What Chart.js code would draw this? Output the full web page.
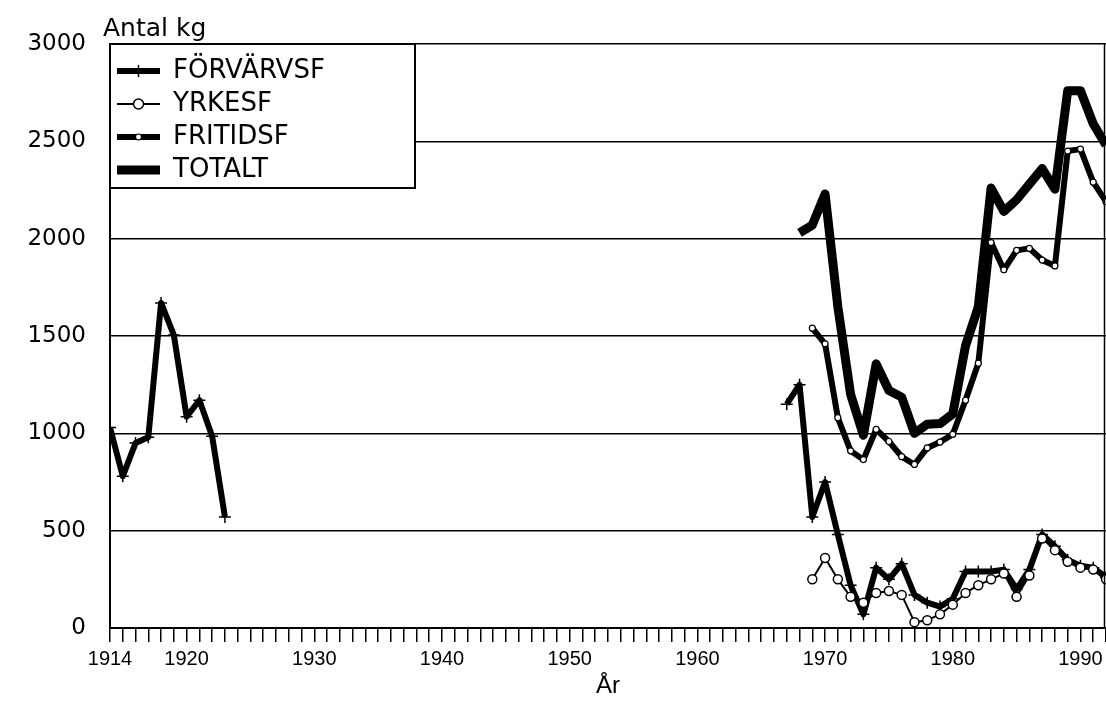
<!DOCTYPE html>
<html>
<head>
<meta charset="utf-8">
<script src="https://cdn.jsdelivr.net/npm/chart.js@4"></script>
<style>
  html, body { margin: 0; padding: 0; background: #fff; }
  #wrap { width: 1106px; height: 701px; position: relative; }
</style>
</head>
<body>
<div id="wrap"><canvas id="chart"></canvas></div>
<script>
// early period, only FÖRVÄRVSF
const earlyYears = [1914, 1915, 1916, 1917, 1918, 1919, 1920, 1921, 1922, 1923];
const forvEarly = [1030, 780, 950, 980, 1670, 1505, 1085, 1170, 985, 570];

// late period
const lateYears = [1967, 1968, 1969, 1970, 1971, 1972, 1973, 1974, 1975, 1976, 1977, 1978, 1979,
                   1980, 1981, 1982, 1983, 1984, 1985, 1986, 1987, 1988, 1989, 1990, 1991, 1992];
const forvLate = [1150, 1250, 570, 750, 480, 220, 70, 310, 250, 330, 170, 130, 110,
                  150, 290, 290, 290, 300, 200, 300, 480, 420, 350, 320, 310, 260];
const yrkeLate = [null, null, 250, 360, 250, 160, 130, 180, 190, 170, 30, 40, 70,
                  120, 180, 220, 250, 280, 160, 270, 460, 400, 340, 310, 300, 250];
const fritidLate = [null, null, 1540, 1460, 1080, 910, 865, 1020, 958, 880, 840, 925, 955,
                    995, 1170, 1360, 1980, 1840, 1940, 1950, 1890, 1860, 2450, 2460, 2290, 2190];
const totalLate = [null, 2030, 2070, 2230, 1650, 1200, 990, 1357, 1220, 1186, 1000, 1047, 1050,
                   1100, 1450, 1650, 2260, 2140, 2200, 2280, 2360, 2254, 2760, 2760, 2590, 2480];

const seriesNames = ['FÖRVÄRVSF', 'YRKESF', 'FRITIDSF', 'TOTALT'];
const xLabelYears = [1914, 1920, 1930, 1940, 1950, 1960, 1970, 1980, 1990];
const yTicks = [0, 500, 1000, 1500, 2000, 2500, 3000];

function points(years, values) {
    return years.map((yr, i) => ({x: yr, y: values[i]}));
}

// null point between the two periods so the line breaks
const gapYear = (earlyYears[earlyYears.length - 1] + lateYears[0]) / 2;
const forvData = points(earlyYears, forvEarly)
    .concat([{x: gapYear, y: null}], points(lateYears, forvLate));

const black = '#000';
const sans = '"Liberation Sans", Arial, sans-serif';
const wide = '"DejaVu Sans", sans-serif';

const legendBoxWidth = 43;

const extras = {
    id: 'extras',
    afterLayout(chart) {
        // legend in the chart area gets top 0, move it into the plot
        const area = chart.chartArea;
        chart.legend.top = area.top + 7;
        chart.legend.bottom = area.bottom;
    },
    afterDraw(chart) {
        const ctx = chart.ctx;
        const area = chart.chartArea;
        ctx.save();
        ctx.fillStyle = black;
        ctx.strokeStyle = black;

        ctx.font = '25px ' + wide;
        ctx.textBaseline = 'alphabetic';
        ctx.fillText('Antal kg', area.left - 7, area.top - 8);

        // right edge of the plot
        ctx.lineWidth = 1.5;
        ctx.beginPath();
        ctx.moveTo(area.right - 1.5, area.top);
        ctx.lineTo(area.right - 1.5, area.bottom);
        ctx.stroke();

        // white legend panel with frame, legend drawn again on top
        const boxes = chart.legend.legendHitBoxes;
        const last = boxes[boxes.length - 1];
        const frameH = last.top + last.height + 5 - area.top;
        ctx.fillStyle = '#fff';
        ctx.fillRect(area.left, area.top, 305, frameH);
        ctx.lineWidth = 2;
        ctx.strokeRect(area.left, area.top, 305, frameH);
        ctx.restore();

        chart.legend.draw();

        // markers in the legend samples
        ctx.save();
        ctx.strokeStyle = black;
        boxes.forEach((hb, i) => {
            const cx = hb.left + legendBoxWidth / 2;
            const cy = hb.top + hb.height / 2;
            ctx.beginPath();
            if (i === 0) {
                ctx.lineWidth = 1.5;
                ctx.moveTo(cx, cy - 6); ctx.lineTo(cx, cy + 6);
                ctx.stroke();
            } else if (i === 1) {
                ctx.lineWidth = 1.5;
                ctx.fillStyle = '#fff';
                ctx.arc(cx, cy, 5, 0, Math.PI * 2);
                ctx.fill(); ctx.stroke();
            } else if (i === 2) {
                ctx.lineWidth = 1.2;
                ctx.fillStyle = '#fff';
                ctx.arc(cx, cy, 3, 0, Math.PI * 2);
                ctx.fill(); ctx.stroke();
            }
        });
        ctx.restore();
    }
};

const config = {
    type: 'line',
    data: {
        datasets: [{
            label: seriesNames[0],
            data: forvData,
            borderColor: black,
            backgroundColor: black,
            borderWidth: 6,
            pointStyle: 'cross',
            pointRadius: 6,
            pointBorderWidth: 1.5,
            pointBorderColor: black,
            order: 1,
        }, {
            label: seriesNames[1],
            data: points(lateYears, yrkeLate),
            borderColor: black,
            backgroundColor: black,
            borderWidth: 2,
            pointStyle: 'circle',
            pointRadius: 4.5,
            pointBorderWidth: 1.5,
            pointBorderColor: black,
            pointBackgroundColor: '#fff',
            order: 0,
        }, {
            label: seriesNames[2],
            data: points(lateYears, fritidLate),
            borderColor: black,
            backgroundColor: black,
            borderWidth: 6,
            pointStyle: 'circle',
            pointRadius: 3,
            pointBorderWidth: 1.2,
            pointBorderColor: black,
            pointBackgroundColor: '#fff',
            order: 2,
        }, {
            label: seriesNames[3],
            data: points(lateYears, totalLate),
            borderColor: black,
            backgroundColor: black,
            borderWidth: 9,
            pointRadius: 0,
            order: 3,
        }],
    },
    options: {
        responsive: true,
        maintainAspectRatio: false,
        animation: false,
        devicePixelRatio: 1,
        spanGaps: false,
        elements: {
            line: {
                tension: 0,
                borderJoinStyle: 'round',
                borderCapStyle: 'butt',
            },
        },
        layout: {
            autoPadding: false,
            padding: {top: 44, right: 0, bottom: 0, left: 0},
        },
        scales: {
            x: {
                type: 'linear',
                min: 1914,
                max: 1992,
                afterBuildTicks: function (scale) {
                    const ticks = [];
                    for (let yr = scale.min; yr <= scale.max; yr++) {
                        ticks.push({value: yr});
                    }
                    scale.ticks = ticks;
                },
                afterFit: function (scale) {
                    scale.height = 73;
                    scale.paddingRight = 0;
                },
                grid: {
                    drawOnChartArea: false,
                    drawTicks: true,
                    tickLength: 14,
                    color: black,
                    lineWidth: 1.5,
                },
                border: {
                    display: true,
                    color: black,
                    width: 2,
                },
                ticks: {
                    autoSkip: false,
                    maxRotation: 0,
                    minRotation: 0,
                    padding: 5,
                    color: black,
                    font: {family: sans, size: 20},
                    callback: function (value) {
                        return xLabelYears.includes(value) ? String(value) : '';
                    },
                },
                title: {
                    display: true,
                    text: 'År',
                    color: black,
                    font: {family: sans, size: 24},
                    padding: {top: 0, bottom: 0},
                },
            },
            y: {
                min: yTicks[0],
                max: yTicks[yTicks.length - 1],
                afterBuildTicks: function (scale) {
                    scale.ticks = yTicks.map(v => ({value: v}));
                },
                afterFit: function (scale) {
                    scale.width = 110;
                },
                grid: {
                    color: black,
                    lineWidth: 1.5,
                    drawTicks: false,
                },
                border: {
                    display: true,
                    color: black,
                    width: 2,
                },
                ticks: {
                    padding: 24,
                    color: black,
                    font: {family: wide, size: 23},
                    callback: function (value) {
                        return String(value);
                    },
                },
            },
        },
        plugins: {
            legend: {
                position: 'chartArea',
                align: 'start',
                labels: {
                    color: black,
                    font: {family: wide, size: 26},
                    boxWidth: legendBoxWidth,
                    boxHeight: 0,
                    padding: 7,
                    generateLabels: function (chart) {
                        return chart.data.datasets.map((ds, i) => ({
                            text: ds.label,
                            fillStyle: black,
                            strokeStyle: black,
                            lineWidth: ds.borderWidth,
                            hidden: false,
                            datasetIndex: i,
                            fontColor: black,
                        }));
                    },
                },
            },
            tooltip: {
                enabled: false,
            },
        },
    },
    plugins: [extras],
};

new Chart(document.getElementById('chart'), config);
</script>
</body>
</html>
